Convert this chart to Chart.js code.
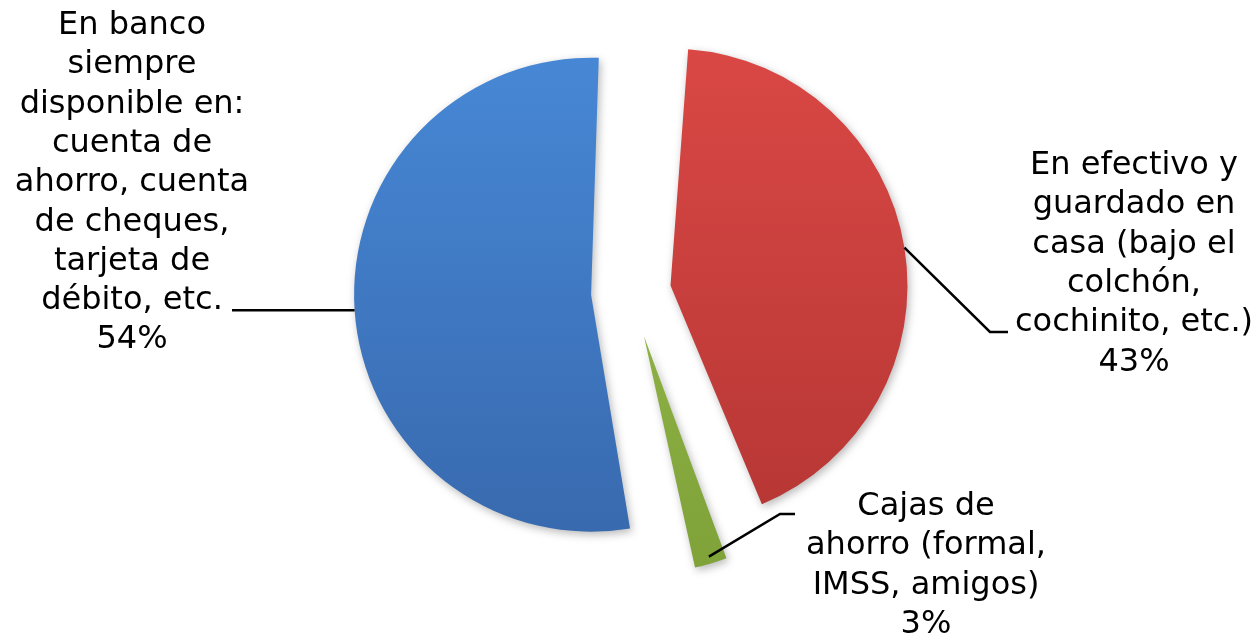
<!DOCTYPE html>
<html lang="es">
<head>
    <meta charset="UTF-8">
    <title>Dónde guarda su dinero</title>
    <script src="https://cdn.jsdelivr.net/npm/chart.js"></script>
    <style>
        html, body {
            margin: 0;
            padding: 0;
            background: #ffffff;
        }
        .chart-box {
            width: 1260px;
            height: 636px;
        }
    </style>
</head>
<body>

    <div class="chart-box">
        <canvas id="pieChart" width="1260" height="636"></canvas>
    </div>

    <script>
        // Data (order = clockwise from the top)
        const categories = ['En efectivo y guardado en casa', 'Cajas de ahorro', 'En banco siempre disponible'];
        const percentages = [43, 3, 54];
        const labelLines = [
            ['En efectivo y', 'guardado en', 'casa (bajo el', 'colchón,', 'cochinito, etc.)'],
            ['Cajas de', 'ahorro (formal,', 'IMSS, amigos)'],
            ['En banco', 'siempre', 'disponible en:', 'cuenta de', 'ahorro, cuenta', 'de cheques,', 'tarjeta de', 'débito, etc.']
        ];

        // colours, top -> bottom of the slice gradient
        const sliceColors = [
            ['#da4845', '#b33533'],
            ['#9abf4d', '#7c9f37'],
            ['#4788d6', '#3767ab']
        ];
        const explode = [40, 46, 40];   // distance each slice is pulled out, in px
        const pieRadius = 237;

        // label placement: text centre x, first baseline, leader line points after the arc
        const labelLayout = [
            { x: 1134, y: 174, leader: [[990, 332], [1008, 332]], edge: 1 },
            { x: 926, y: 515, leader: [[780, 514], [795, 514]], edge: 0.97 },
            { x: 132, y: 34, leader: [[232, null]], edge: 1 }   // null y = stay level
        ];
        const lineStep = 39.3;
        const labelFont = '32px Verdana, "DejaVu Sans", sans-serif';

        const gradCache = {};
        function sliceGradient(context) {
            const chart = context.chart;
            const i = context.dataIndex;
            if (!chart.chartArea || i === undefined) return sliceColors[0][0];
            if (!gradCache[i]) {
                const g = chart.ctx.createLinearGradient(0, 45, 0, 575);
                g.addColorStop(0, sliceColors[i][0]);
                g.addColorStop(1, sliceColors[i][1]);
                gradCache[i] = g;
            }
            return gradCache[i];
        }

        // Chart.js v4 draws an arc shifted by offset/4 and grows its radius by a bit,
        // keep all slices at the same radius like the original picture
        const evenRadius = {
            id: 'evenRadius',
            beforeDatasetsDraw(chart) {
                const arcs = chart.getDatasetMeta(0).data;
                arcs.forEach((arc, i) => {
                    const circ = arc.endAngle - arc.startAngle;
                    const fix = 1 - Math.sin(Math.min(Math.PI, circ));
                    arc.outerRadius = pieRadius - explode[i] * fix;
                });
                const ctx = chart.ctx;
                ctx.save();
                ctx.shadowColor = 'rgba(0, 0, 0, 0.28)';
                ctx.shadowBlur = 8;
                ctx.shadowOffsetX = 2;
                ctx.shadowOffsetY = 3;
            },
            afterDatasetsDraw(chart) {
                chart.ctx.restore();
            }
        };

        const sliceLabels = {
            id: 'sliceLabels',
            afterDraw(chart) {
                const ctx = chart.ctx;
                const arcs = chart.getDatasetMeta(0).data;
                ctx.save();
                arcs.forEach((arc, i) => {
                    const mid = (arc.startAngle + arc.endAngle) / 2;
                    const cx = arc.x + Math.cos(mid) * explode[i];
                    const cy = arc.y + Math.sin(mid) * explode[i];
                    const lay = labelLayout[i];
                    const sx = cx + Math.cos(mid) * pieRadius * lay.edge;
                    const sy = cy + Math.sin(mid) * pieRadius * lay.edge;

                    ctx.beginPath();
                    ctx.moveTo(sx, sy);
                    lay.leader.forEach(p => ctx.lineTo(p[0], p[1] === null ? sy : p[1]));
                    ctx.strokeStyle = '#000000';
                    ctx.lineWidth = 2.5;
                    ctx.stroke();

                    ctx.fillStyle = '#000000';
                    ctx.font = labelFont;
                    ctx.textAlign = 'center';
                    ctx.textBaseline = 'alphabetic';
                    const lines = labelLines[i].concat([percentages[i] + '%']);
                    lines.forEach((t, k) => {
                        ctx.fillText(t, lay.x, lay.y + k * lineStep);
                    });
                });
                ctx.restore();
            }
        };

        const ctx = document.getElementById('pieChart').getContext('2d');
        const myChart = new Chart(ctx, {
            type: 'pie',
            data: {
                labels: categories,
                datasets: [{
                    data: percentages,
                    backgroundColor: sliceGradient,
                    borderWidth: 0,
                    offset: explode.map(d => d * 4)
                }]
            },
            options: {
                responsive: false,
                animation: false,
                rotation: 3.4,
                radius: pieRadius,
                layout: {
                    padding: { left: 2, right: 0, top: 0, bottom: 52 }
                },
                plugins: {
                    legend: { display: false },
                    tooltip: { enabled: false }
                }
            },
            plugins: [evenRadius, sliceLabels]
        });
    </script>

</body>
</html>
